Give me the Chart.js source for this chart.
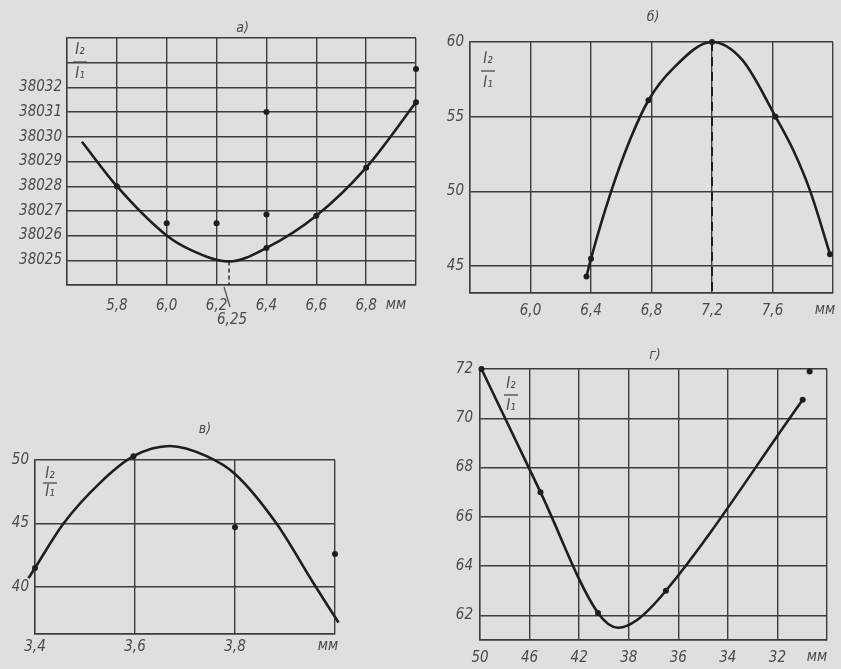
<!DOCTYPE html>
<html lang="ru">
<head>
<meta charset="utf-8">
<script src="https://cdn.jsdelivr.net/npm/chart.js@4.4.1/dist/chart.umd.min.js"></script>
<style>
  html, body { margin: 0; padding: 0; background: #dfdfdd; }
  body { width: 841px; height: 669px; position: relative; overflow: hidden; }
  canvas { position: absolute; }
</style>
</head>
<body>
<canvas id="chartA" width="420" height="340" style="left:0;top:0"></canvas>
<canvas id="chartB" width="421" height="340" style="left:420px;top:0"></canvas>
<canvas id="chartC" width="420" height="289" style="left:0;top:380px"></canvas>
<canvas id="chartD" width="421" height="349" style="left:420px;top:320px"></canvas>
<script>
// а) I2/I1 against gap, mm
const gridXA = [5.6, 5.8, 6.0, 6.2, 6.4, 6.6, 6.8, 7.0];
const tickXA = ['', '5,8', '6,0', '6,2', '6,4', '6,6', '6,8', ''];
const gridYA = [38024, 38025, 38026, 38027, 38028, 38029, 38030, 38031, 38032, 38033, 38034];
const tickYA = ['', '38025', '38026', '38027', '38028', '38029', '38030', '38031', '38032', '', ''];
const curveXA = [5.66, 5.8, 6.0, 6.1, 6.25, 6.4, 6.6, 6.8, 7.0];
const curveYA = [38029.8, 38028.0, 38026.0, 38025.4, 38024.95, 38025.5, 38026.8, 38028.75, 38031.4];
const dotXA = [5.8, 6.0, 6.2, 6.4, 6.4, 6.4, 6.6, 6.8, 7.0, 7.0];
const dotYA = [38028.0, 38026.5, 38026.5, 38025.5, 38026.85, 38031.0, 38026.8, 38028.75, 38031.4, 38032.75];
const minXA = [6.25, 6.25];
const minYA = [38024.95, 38024];

// б)
const gridXB = [5.6, 6.0, 6.4, 6.8, 7.2, 7.6, 8.0];
const tickXB = ['', '6,0', '6,4', '6,8', '7,2', '7,6', ''];
const gridYB = [43.2, 45, 50, 55, 60];
const tickYB = ['', '45', '50', '55', '60'];
const curveXB = [6.37, 6.40, 6.53, 6.66, 6.78, 6.94, 7.2, 7.4, 7.62, 7.74, 7.85, 7.98];
const curveYB = [44.3, 45.5, 49.9, 53.5, 56.1, 58.2, 60.0, 58.8, 55.0, 52.7, 50.0, 45.8];
const dotXB = [6.37, 6.4, 6.78, 7.2, 7.62, 7.98];
const dotYB = [44.3, 45.5, 56.1, 60.0, 55.0, 45.8];
const peakXB = [7.2, 7.2];
const peakYB = [60, 43.2];

// в)
const gridXC = [3.4, 3.6, 3.8, 4.0];
const tickXC = ['3,4', '3,6', '3,8', ''];
const gridYC = [36.3, 40, 45, 50];
const tickYC = ['', '40', '45', '50'];
const curveXC = [3.387, 3.4, 3.457, 3.53, 3.597, 3.67, 3.743, 3.8, 3.883, 3.957, 4.007];
const curveYC = [40.7, 41.5, 45.0, 48.2, 50.3, 51.1, 50.3, 48.9, 45.0, 40.3, 37.2];
const dotXC = [3.4, 3.597, 3.8, 4.0, 4.007];
const dotYC = [41.5, 50.3, 44.7, 42.6, 37.2];

// г) x is counted in grid cells, labels below
const gridXD = [0, 1, 2, 3, 4, 5, 6, 7];
const tickXD = ['50', '46', '42', '38', '36', '34', '32', ''];
const gridYD = [61, 62, 64, 66, 68, 70, 72];
const tickYD = ['', '62', '64', '66', '68', '70', '72'];
const curveXD = [0.03, 1.22, 2.38, 2.79, 3.16, 3.75, 6.51];
const curveYD = [72.0, 67.0, 62.1, 61.5, 61.8, 63.0, 70.75];
const dotXD = [0.03, 1.22, 2.38, 3.75, 6.51, 6.65];
const dotYD = [72.0, 67.0, 62.1, 63.0, 70.75, 71.9];

const FONT = "'DejaVu Sans Condensed', 'Liberation Sans Narrow', 'DejaVu Sans', sans-serif";
const INK = '#1e1e1e';
const GRID = '#3c3c3c';
const TEXT = '#4a4a4a';

const pairs = (xs, ys) => xs.map((x, i) => ({ x: x, y: ys[i] }));

// heading, unit, I2/I1 fraction and the 6,25 leader
const sheetMarks = {
    id: 'sheetMarks',
    afterDraw(chart, args, opts) {
        const ctx = chart.ctx;
        const a = chart.chartArea;
        ctx.save();
        ctx.fillStyle = TEXT;
        ctx.strokeStyle = TEXT;
        ctx.textAlign = 'center';
        ctx.textBaseline = 'middle';

        ctx.font = 'italic 14px ' + FONT;
        ctx.fillText(opts.title, (a.left + a.right) / 2 + opts.titleDx, a.top - opts.titleDy);

        ctx.font = 'italic 15px ' + FONT;
        ctx.fillText('мм', a.right + opts.unitDx, a.bottom + opts.unitDy);

        const fx = a.left + opts.fracDx;
        const fy = a.top + opts.fracDy;
        const gap = opts.fracGap || 12;
        ctx.font = 'italic 15px ' + FONT;
        ctx.fillText('I₂', fx, fy - gap);
        ctx.fillText('I₁', fx, fy + gap);
        ctx.lineWidth = 1.3;
        ctx.beginPath();
        ctx.moveTo(fx - 7, fy);
        ctx.lineTo(fx + 7, fy);
        ctx.stroke();

        if (opts.leader) {
            const lx = chart.scales.x.getPixelForValue(opts.leader.value);
            ctx.lineWidth = 1.2;
            ctx.beginPath();
            ctx.moveTo(lx - 5, a.bottom + 2);
            ctx.lineTo(lx + 1, a.bottom + 22);
            ctx.stroke();
            ctx.font = 'italic 15px ' + FONT;
            ctx.fillText(opts.leader.text, lx + 3, a.bottom + 35);
        }
        ctx.restore();
    }
};

function drawSheet(canvasId, d) {
    const ctx = document.getElementById(canvasId).getContext('2d');
    const tickFont = { family: FONT, size: 15, style: 'italic' };

    const datasets = [
        {
            data: pairs(d.curveX, d.curveY),
            borderColor: INK,
            borderWidth: 2.6,
            pointRadius: 0,
            cubicInterpolationMode: 'monotone',
            clip: false,
        },
        {
            data: pairs(d.dotX, d.dotY),
            showLine: false,
            pointRadius: 3,
            pointBackgroundColor: INK,
            pointBorderWidth: 0,
            clip: false,
        },
    ];
    if (d.dashX) {
        datasets.push({
            data: pairs(d.dashX, d.dashY),
            borderColor: INK,
            borderWidth: d.dashWidth,
            borderDash: d.dash,
            pointRadius: 0,
            tension: 0,
        });
    }

    const fixAxis = (size, horizontal) => (scale) => {
        if (horizontal) scale.height = size; else scale.width = size;
        scale.paddingLeft = 0;
        scale.paddingRight = 0;
        scale.paddingTop = 0;
        scale.paddingBottom = 0;
    };

    return new Chart(ctx, {
        type: 'line',
        data: { datasets: datasets },
        options: {
            responsive: false,
            animation: false,
            devicePixelRatio: 1,
            layout: { padding: d.padding },
            plugins: {
                legend: { display: false },
                tooltip: { enabled: false },
                sheetMarks: d.marks,
            },
            scales: {
                x: {
                    type: 'linear',
                    min: d.gridX[0],
                    max: d.gridX[d.gridX.length - 1],
                    afterBuildTicks: (s) => { s.ticks = d.gridX.map(v => ({ value: v })); },
                    afterFit: fixAxis(d.xSize, true),
                    ticks: {
                        callback: (v, i) => d.tickX[i],
                        padding: d.xPad,
                        maxRotation: 0,
                        autoSkip: false,
                        color: TEXT,
                        font: tickFont,
                    },
                    grid: { color: GRID, lineWidth: 1.4, drawTicks: false },
                    border: { color: GRID, width: 1.4 },
                },
                y: {
                    type: 'linear',
                    min: d.gridY[0],
                    max: d.gridY[d.gridY.length - 1],
                    afterBuildTicks: (s) => { s.ticks = d.gridY.map(v => ({ value: v })); },
                    afterFit: fixAxis(d.ySize, false),
                    ticks: {
                        callback: (v, i) => d.tickY[i],
                        padding: d.yPad,
                        autoSkip: false,
                        color: TEXT,
                        font: tickFont,
                    },
                    grid: { color: GRID, lineWidth: 1.4, drawTicks: false },
                    border: { color: GRID, width: 1.4 },
                },
            },
        },
        plugins: [sheetMarks],
    });
}

drawSheet('chartA', {
    gridX: gridXA, tickX: tickXA, gridY: gridYA, tickY: tickYA,
    curveX: curveXA, curveY: curveYA, dotX: dotXA, dotY: dotYA,
    dashX: minXA, dashY: minYA, dash: [4, 3], dashWidth: 1.4,
    padding: { left: 7, top: 38, right: 3, bottom: 25 },
    xSize: 30, ySize: 60, xPad: 12, yPad: 5,
    marks: {
        title: 'а)', titleDx: 1, titleDy: 10,
        unitDx: -20, unitDy: 20,
        fracDx: 13, fracDy: 24, fracGap: 12,
        leader: { value: 6.25, text: '6,25' },
    },
});

drawSheet('chartB', {
    gridX: gridXB, tickX: tickXB, gridY: gridYB, tickY: tickYB,
    curveX: curveXB, curveY: curveYB, dotX: dotXB, dotY: dotYB,
    dashX: peakXB, dashY: peakYB, dash: [9, 6], dashWidth: 2,
    padding: { left: 10, top: 42, right: 8, bottom: 17 },
    xSize: 30, ySize: 40, xPad: 9, yPad: 6,
    marks: {
        title: 'б)', titleDx: 1.5, titleDy: 25,
        unitDx: -8, unitDy: 17,
        fracDx: 18, fracDy: 29, fracGap: 12,
    },
});

drawSheet('chartC', {
    gridX: gridXC, tickX: tickXC, gridY: gridYC, tickY: tickYC,
    curveX: curveXC, curveY: curveYC, dotX: dotXC, dotY: dotYC,
    padding: { left: 5, top: 80, right: 85, bottom: 5 },
    xSize: 30, ySize: 30, xPad: 4, yPad: 6,
    marks: {
        title: 'в)', titleDx: 20, titleDy: 31,
        unitDx: -7, unitDy: 12,
        fracDx: 15, fracDy: 23, fracGap: 9,
    },
});

drawSheet('chartD', {
    gridX: gridXD, tickX: tickXD, gridY: gridYD, tickY: tickYD,
    curveX: curveXD, curveY: curveYD, dotX: dotXD, dotY: dotYD,
    padding: { left: 20, top: 49, right: 14, bottom: 4 },
    xSize: 25, ySize: 40, xPad: 9, yPad: 7,
    marks: {
        title: 'г)', titleDx: 1.5, titleDy: 14,
        unitDx: -10, unitDy: 17,
        fracDx: 31, fracDy: 26, fracGap: 11,
    },
});
</script>
</body>
</html>
